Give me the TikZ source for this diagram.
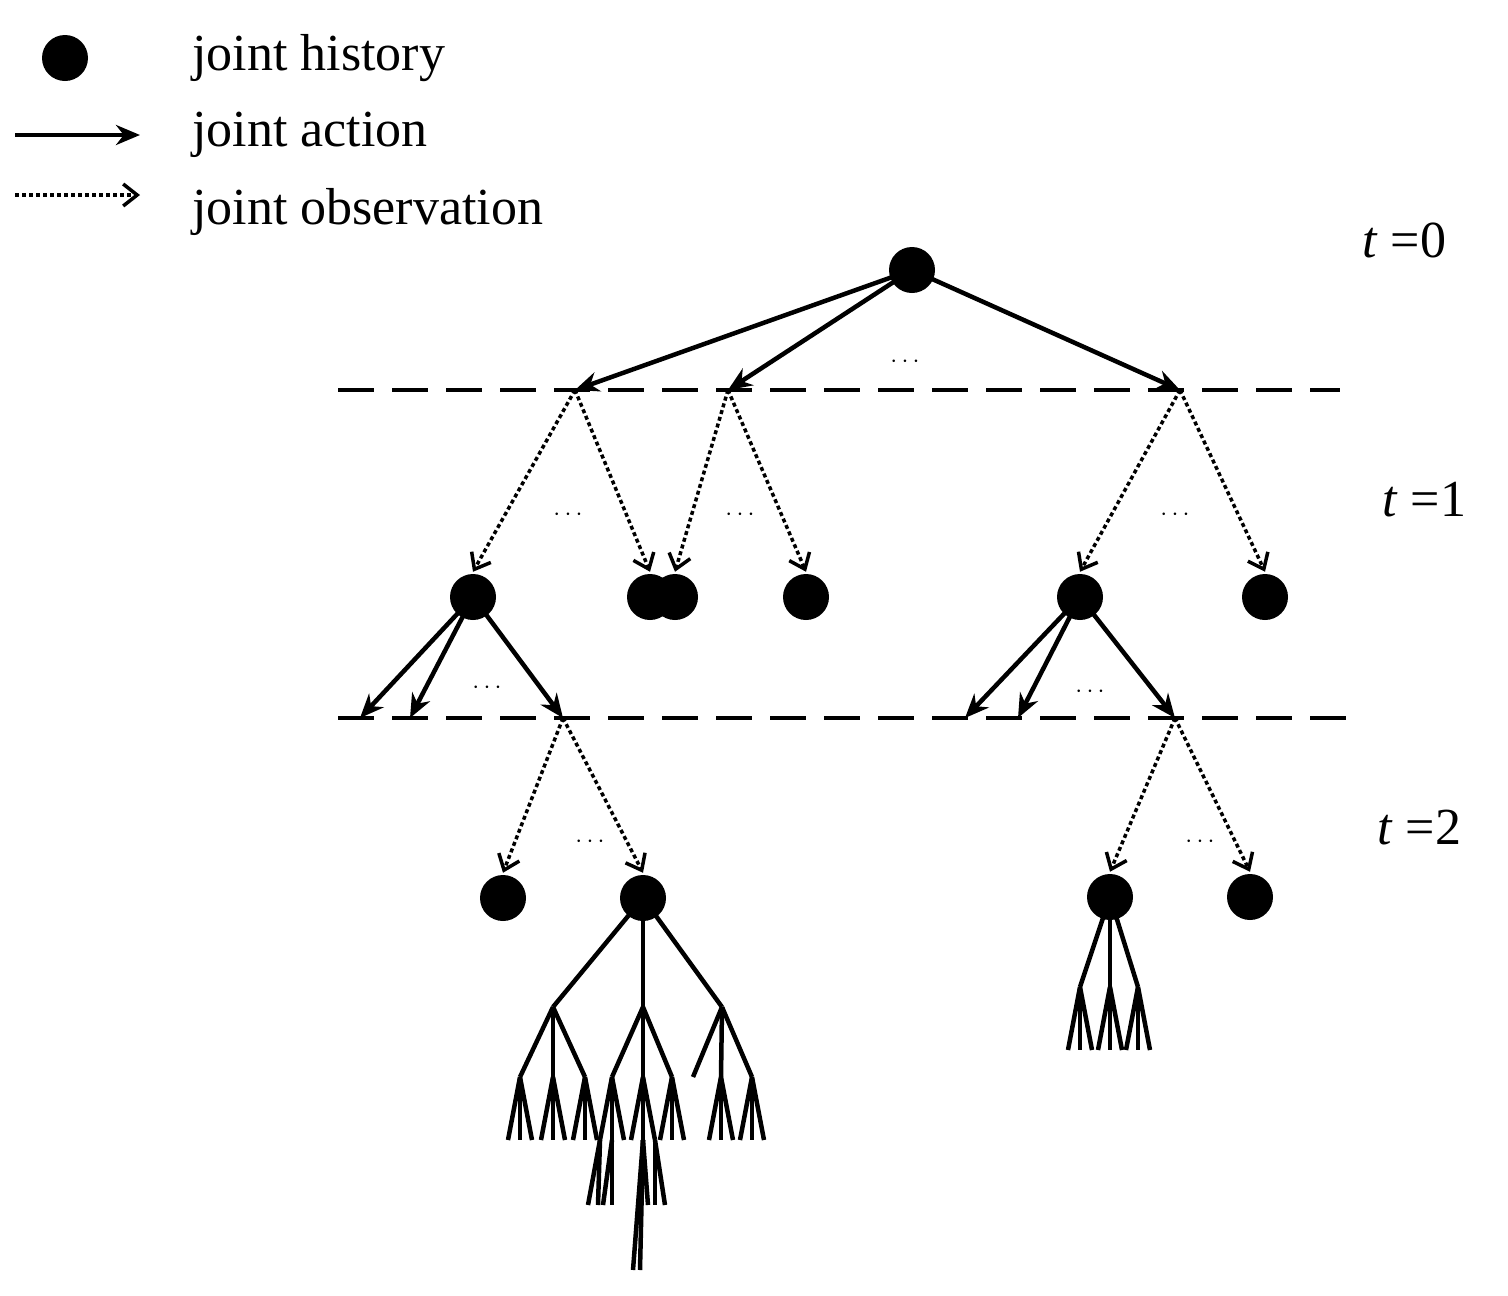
\documentclass[tikz,border=0pt]{standalone}
\usepackage{fontspec}
\setmainfont{Liberation Serif}
\usetikzlibrary{arrows.meta}
\begin{document}
\begin{tikzpicture}[x=1pt,y=-1pt,line width=4.5pt,
  dot/.style={circle,fill=black,inner sep=0pt,minimum size=46pt},
  act/.style={-{Stealth[length=24pt,width=20pt]}},
  obs/.style={dash pattern=on 4pt off 3pt,line width=3.5pt,-{Straight Barb[length=14pt,width=22pt,line width=3.5pt]}},
  lev/.style={dash pattern=on 36pt off 18pt,line width=4.5pt},
  br/.style={line width=4.5pt},
  lbl/.style={font=\fontsize{52}{54}\selectfont,anchor=west,inner sep=0pt},
  dots/.style={font=\fontsize{34}{34}\selectfont,inner sep=0pt}]
\useasboundingbox (0,0) rectangle (1508,1296);
% legend
\node[dot] (lg) at (65,58) {};
\node[lbl] (l1) at (190,58) {joint history};
\coordinate (a1) at (15,135); \coordinate (a2) at (140,135);
\draw[act] (a1) -- (a2);
\node[lbl] (l2) at (190,135) {joint action};
\coordinate (o1) at (15,195); \coordinate (o2) at (140,195);
\draw[obs] (o1) -- (o2);
\node[lbl] (l3) at (190,212) {joint observation};
% time labels
\node[lbl] (t0) at (1360,240) {\textit{t} =0};
\node[lbl] (t1) at (1380,500) {\textit{t} =1};
\node[lbl] (t2) at (1375,828) {\textit{t} =2};
% level lines
\coordinate (d1a) at (338,390); \coordinate (d1b) at (1340,390);
\draw[lev] (d1a) -- (d1b);
\coordinate (d2a) at (338,718); \coordinate (d2b) at (1355,718);
\draw[lev] (d2a) -- (d2b);
% root
\node[dot] (r) at (912,270) {};
\coordinate (p1) at (575,390); \coordinate (p2) at (728,390); \coordinate (p3) at (1180,390);
\foreach \p in {p1,p2,p3} \draw[act] (r.center) -- (\p);
\node[dots] at (905,362) {$\cdots$};
% t=1 nodes
\node[dot] (h1) at (473,597) {};
\node[dot] (h2) at (650,597) {};
\node[dot] (h3) at (675,597) {};
\node[dot] (h4) at (806,597) {};
\node[dot] (h5) at (1080,597) {};
\node[dot] (h6) at (1265,597) {};
\draw[obs] (p1) -- (h1.north); \draw[obs] (p1) -- (h2.north);
\draw[obs] (p2) -- (h3.north); \draw[obs] (p2) -- (h4.north);
\draw[obs] (p3) -- (h5.north); \draw[obs] (p3) -- (h6.north);
\node[dots] at (568,515) {$\cdots$};
\node[dots] at (740,515) {$\cdots$};
\node[dots] at (1175,515) {$\cdots$};
% actions to t=2
\coordinate (q1) at (360,718); \coordinate (q2) at (410,718); \coordinate (q3) at (563,718);
\coordinate (q4) at (965,718); \coordinate (q5) at (1018,718); \coordinate (q6) at (1175,718);
\foreach \q in {q1,q2,q3} \draw[act] (h1.center) -- (\q);
\foreach \q in {q4,q5,q6} \draw[act] (h5.center) -- (\q);
\node[dots] at (487,688) {$\cdots$};
\node[dots] at (1090,692) {$\cdots$};
% t=2 nodes
\node[dot] (g1) at (503,898) {};
\node[dot] (g2) at (643,898) {};
\node[dot] (g3) at (1110,897) {};
\node[dot] (g4) at (1250,897) {};
\draw[obs] (q3) -- (g1.north); \draw[obs] (q3) -- (g2.north);
\draw[obs] (q6) -- (g3.north); \draw[obs] (q6) -- (g4.north);
\node[dots] at (590,842) {$\cdots$};
\node[dots] at (1200,842) {$\cdots$};
% subtree under g2
\coordinate (b1) at (553,1007); \coordinate (b2) at (643,1007); \coordinate (b3) at (722,1007);
\foreach \b in {b1,b2,b3} \draw[br] (g2.center) -- (\b);
\foreach \b/\l/\m/\r in {b1/520/553/585, b2/612/643/672, b3/693/721/752}
  \foreach \x in {\l,\m,\r} \draw[br] (\b) -- (\x,1077);
\foreach \x in {520,553,585,612,643,672,721,752}
  \foreach \d in {-12,0,12} \draw[br] (\x,1077) -- ({\x+\d},1140);
% deeper leaves
\foreach \s/\e in {600/588,600/598,612/603,612/612,655/655,655/665,643/648}
  \draw[br] (\s,1140) -- (\e,1205);
\draw[br] (643,1140) -- (633,1270);
\draw[br] (643,1140) -- (640,1270);
% subtree under g3
\coordinate (c1) at (1080,987); \coordinate (c2) at (1110,987); \coordinate (c3) at (1138,987);
\foreach \c in {c1,c2,c3} \draw[br] (g3.center) -- (\c);
\foreach \x in {1080,1110,1138}
  \foreach \d in {-12,0,12} \draw[br] (\x,987) -- ({\x+\d},1050);
\end{tikzpicture}
\end{document}
